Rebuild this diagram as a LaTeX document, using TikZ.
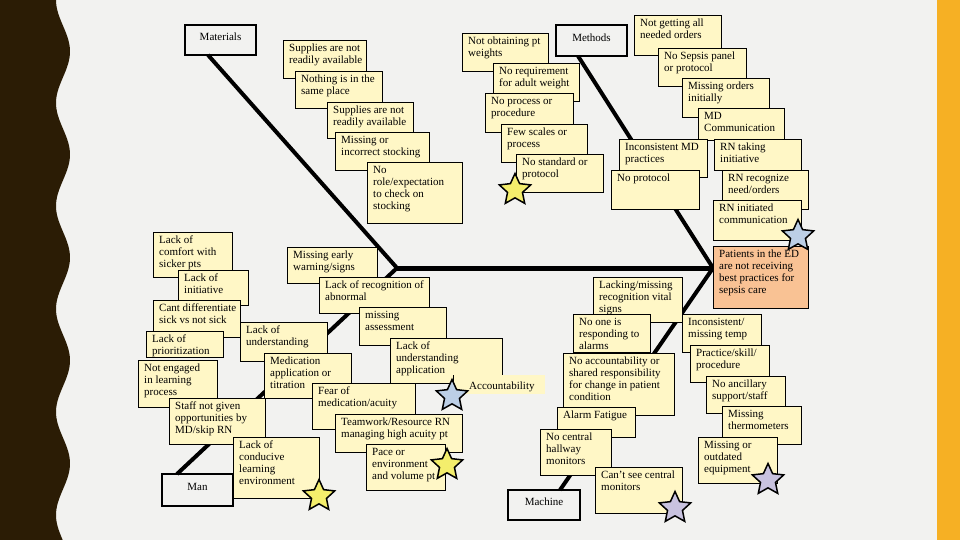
\documentclass[tikz,border=0pt]{standalone}
\usepackage{fontspec}
\setmainfont{Liberation Serif}
\usetikzlibrary{shapes.geometric}
\definecolor{bgc}{HTML}{F2F2F0}
\definecolor{darkbr}{HTML}{2B1C05}
\definecolor{goldc}{HTML}{F6B024}
\definecolor{stickyc}{HTML}{FFF7C6}
\definecolor{patc}{HTML}{F9C294}
\definecolor{stary}{HTML}{F4EE6C}
\definecolor{starb}{HTML}{BCCFE6}
\definecolor{starl}{HTML}{C8C2DF}
\tikzset{
 stickbox/.style={draw=black, line width=0.6pt, anchor=north west, inner sep=0pt, outer sep=0pt},
 sticktext/.style={anchor=north west, inner sep=0pt, align=left, font=\fontsize{11}{12}\selectfont, text=black},
 catbox/.style={draw=black, line width=2.2pt, fill=bgc, anchor=north west, inner sep=0pt, outer sep=0pt},
 cattext/.style={anchor=center, inner sep=0pt, font=\fontsize{11}{12}\selectfont},
 bone/.style={line width=4pt, black},
 starmark/.style={star, star points=5, star point ratio=2.1, minimum size=33pt, inner sep=0pt, draw=black, line width=1.5pt},
}
\newcommand\stick[7][stickyc]{%
 \node[stickbox, fill=#1, minimum width={(#5-#3)*1pt}, minimum height={(#6-#4)*1pt}] (#2) at (#3,#4) {};
 \node[sticktext] (#2t) at ([xshift=6pt,yshift=-4pt]#2.north west) {#7};
}
\newcommand\catnode[6]{%
 \node[catbox, minimum width={(#4-#2)*1pt}, minimum height={(#5-#3)*1pt}] (#1) at (#2,#3) {};
 \node[cattext] (#1t) at ([yshift=3pt]#1.center) {#6};
}
\begin{document}
\begin{tikzpicture}[x=1pt, y=-1pt]
\useasboundingbox (0,0) rectangle (960,540);
\fill[bgc] (0,0) rectangle (960,540);
\fill[goldc] (937,0) rectangle (960,540);
\fill[darkbr] (0,0) -- plot[domain=0:540, samples=160, variable=\t] ({63-7*cos(3.4951*\t)}, {\t}) -- (0,540) -- cycle;

% category boxes
\catnode{mat}{185}{25}{256}{55}{Materials}
\catnode{meth}{556}{25}{627}{56}{Methods}
\catnode{man}{162}{474}{233}{506}{Man}
\catnode{mach}{508}{490}{580}{520}{Machine}

% skeleton
\coordinate (tailL) at (397,268);
\coordinate (head) at (713,268);
\draw[line width=5pt] (tailL) -- (head);
\draw[bone] ([xshift=23pt]mat.south west) -- (tailL);
\draw[bone] ([xshift=22pt]meth.south west) -- (head);
\draw[bone] ([xshift=15pt]man.north west) -- (tailL);
\draw[bone] ([xshift=52pt]mach.north west) -- (head);

% Materials
\stick{m1}{283}{40}{366}{78}{Supplies are not\\readily available}
\stick{m2}{295}{71}{382}{108}{Nothing is in the\\same place}
\stick{m3}{327}{102}{413}{138}{Supplies are not\\readily available}
\stick{m4}{335}{132}{429}{170}{Missing or\\incorrect stocking}
\stick{m5}{367}{162}{462}{223}{No\\role/expectation\\to check on\\stocking}

% Methods
\stick{t1}{462}{33}{548}{71}{Not obtaining pt\\weights}
\stick{t2}{493}{63}{579}{101}{No requirement\\for adult weight}
\stick{t3}{485}{93}{573}{132}{No process or\\procedure}
\stick{t4}{501}{124}{587}{162}{Few scales or\\process}
\stick{t5}{516}{154}{603}{192}{No standard or\\protocol}
\stick{t6}{634}{15}{721}{55}{Not getting all\\needed orders}
\stick{t7}{658}{48}{746}{86}{No Sepsis panel\\or protocol}
\stick{t8}{682}{78}{769}{117}{Missing orders\\initially}
\stick{t9}{698}{108}{784}{140}{MD\\Communication}
\stick{t10}{619}{139}{707}{177}{Inconsistent MD\\practices}
\stick{t11}{714}{139}{801}{170}{RN taking\\initiative}
\stick{t12}{611}{170}{699}{209}{No protocol}
\stick{t13}{722}{170}{808}{209}{RN recognize\\need/orders}
\stick{t14}{713}{200}{801}{240}{RN initiated\\communication}

% head
\stick[patc]{pat}{713}{246}{808}{308}{Patients in the ED\\are not receiving\\best practices for\\sepsis care}

% Man
\stick{a1}{153}{232}{232}{277}{Lack of\\comfort with\\sicker pts}
\stick{a2}{178}{270}{248}{305}{Lack of\\initiative}
\stick{a3}{153}{300}{240}{337}{Cant differentiate\\sick vs not sick}
\stick{a4}{146}{331}{223}{357}{Lack of\\prioritization}
\stick{a5}{138}{360}{217}{407}{Not engaged\\in learning\\process}
\stick{a6}{169}{398}{265}{444}{Staff not given\\opportunities by\\MD/skip RN}
\stick{a9}{287}{247}{377}{283}{Missing early\\warning/signs}
\stick{a10}{319}{277}{429}{313}{Lack of recognition of\\abnormal}
\stick{a11}{359}{307}{446}{345}{missing\\assessment}
\stick{a7}{240}{322}{327}{361}{Lack of\\understanding}
\stick{a8}{264}{353}{351}{398}{Medication\\application or\\titration}
\stick{a12}{390}{338}{502}{383}{Lack of\\understanding\\application}
\node[fill=stickyc, anchor=north west, minimum width=92pt, minimum height=19pt, inner sep=0pt] (acc) at (453,375) {};
\draw[line width=0.6pt] (acc.north west) -- ([yshift=-10pt]acc.north west);
\node[sticktext, anchor=west] (acct) at (469,387) {Accountability};
\stick{a14}{312}{383}{415}{429}{Fear of\\medication/acuity}
\stick{a15}{335}{414}{462}{452}{Teamwork/Resource RN\\managing high acuity pt}
\stick{a16}{366}{444}{445}{490}{Pace or\\environment\\and volume pt}
\stick{a17}{233}{437}{319}{498}{Lack of\\conducive\\learning\\environment}

% Machine
\stick{b1}{593}{277}{682}{322}{Lacking/missing\\recognition vital\\signs}
\stick{b2}{573}{314}{650}{352}{No one is\\responding to\\alarms}
\stick{b3}{563}{353}{674}{415}{No accountability or\\shared responsibility\\for change in patient\\condition}
\stick{b4}{557}{407}{635}{437}{Alarm Fatigue}
\stick{b5}{540}{429}{611}{475}{No central\\hallway\\monitors}
\stick{b6}{595}{467}{682}{513}{Can't see central\\monitors}
\stick{b7}{682}{314}{761}{352}{Inconsistent/\\missing temp}
\stick{b8}{690}{345}{769}{382}{Practice/skill/\\procedure}
\stick{b9}{706}{376}{785}{413}{No ancillary\\support/staff}
\stick{b10}{722}{406}{801}{444}{Missing\\thermometers}
\stick{b11}{698}{437}{777}{483}{Missing or\\outdated\\equipment}

% stars
\node[starmark, fill=stary] (s1) at (515,190) {};
\node[starmark, fill=starb] (s2) at (798,236) {};
\node[starmark, fill=starb] (s3) at (452,396) {};
\node[starmark, fill=stary] (s4) at (447,465) {};
\node[starmark, fill=stary] (s5) at (319,496) {};
\node[starmark, fill=starl] (s6) at (675,508) {};
\node[starmark, fill=starl] (s7) at (768,480) {};
\end{tikzpicture}
\end{document}
